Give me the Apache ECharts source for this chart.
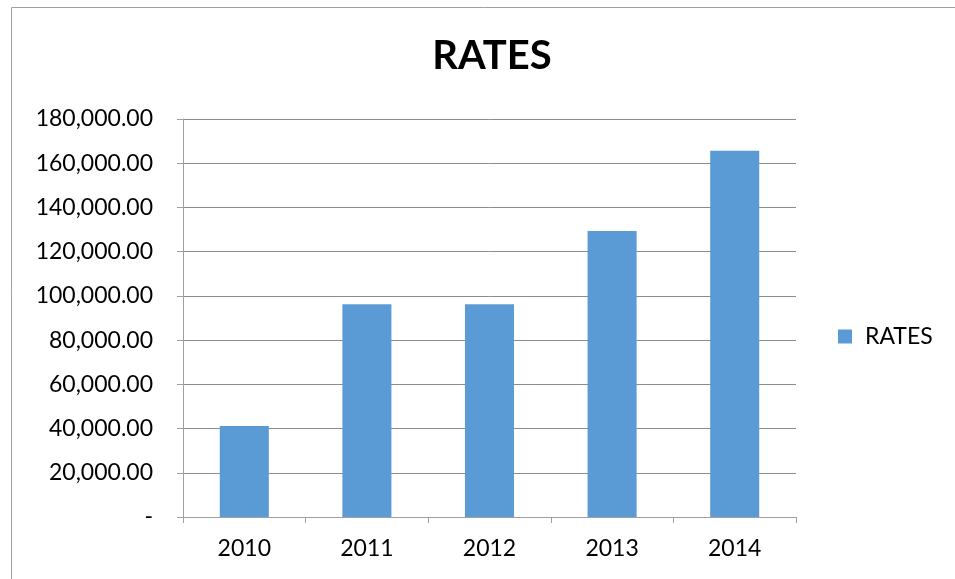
<!DOCTYPE html>
<html>
<head>
<meta charset="utf-8">
<script src="https://cdn.jsdelivr.net/npm/echarts@6/dist/echarts.min.js"></script>
<style>html,body{margin:0;padding:0;background:#fff;}#c{width:955px;height:579px;}</style>
</head>
<body>
<div id="c"></div>
<script>
const categories = ['2010', '2011', '2012', '2013', '2014'];
const rates = [41100, 96200, 96200, 129300, 165600];
const seriesName = 'RATES';
const chartTitle = 'RATES';

const chart = echarts.init(document.getElementById('c'));
const fontFamily = 'Lato, "Open Sans", sans-serif';
chart.setOption({
  animation: false,
  graphic: [{
    type: 'rect',
    shape: { x: 11.5, y: 7.5, width: 1000, height: 700 },
    style: { fill: 'none', stroke: '#a0a0a0', lineWidth: 1 },
    silent: true
  }],
  title: {
    text: chartTitle,
    left: 487, top: 31,
    textAlign: 'center',
    textStyle: { fontFamily, fontWeight: 'bold', fontSize: 40, color: '#000' }
  },
  legend: {
    data: [seriesName],
    left: 833, top: 320,
    icon: 'rect', itemWidth: 14, itemHeight: 14, itemGap: 14,
    textStyle: { fontFamily, fontSize: 23, color: '#000', padding: [0, 0, 0, 8] }
  },
  grid: { left: 183, right: 159, top: 119, bottom: 62 },
  xAxis: {
    type: 'category',
    data: categories,
    boundaryGap: true,
    axisLine: { lineStyle: { color: '#a0a0a0', width: 1 } },
    axisTick: { show: true, alignWithLabel: false, length: 6, lineStyle: { color: '#a0a0a0' } },
    axisLabel: { fontFamily, fontSize: 23, color: '#000', margin: 20 }
  },
  yAxis: {
    type: 'value',
    min: 0, max: 180000, interval: 20000,
    axisLine: { show: true, lineStyle: { color: '#a0a0a0', width: 1 } },
    axisTick: { show: true, length: 6, lineStyle: { color: '#a0a0a0' } },
    splitLine: { lineStyle: { color: '#8c8c8c', width: 1 } },
    axisLabel: {
      fontFamily, fontSize: 23, color: '#000', margin: 30,
      formatter: v => v === 0 ? '-' : v.toLocaleString('en-US', { minimumFractionDigits: 2, maximumFractionDigits: 2 })
    }
  },
  series: [{
    name: seriesName,
    type: 'bar',
    data: rates,
    barCategoryGap: '60%',
    itemStyle: { color: '#5b9bd5' }
  }]
});
</script>
</body>
</html>
